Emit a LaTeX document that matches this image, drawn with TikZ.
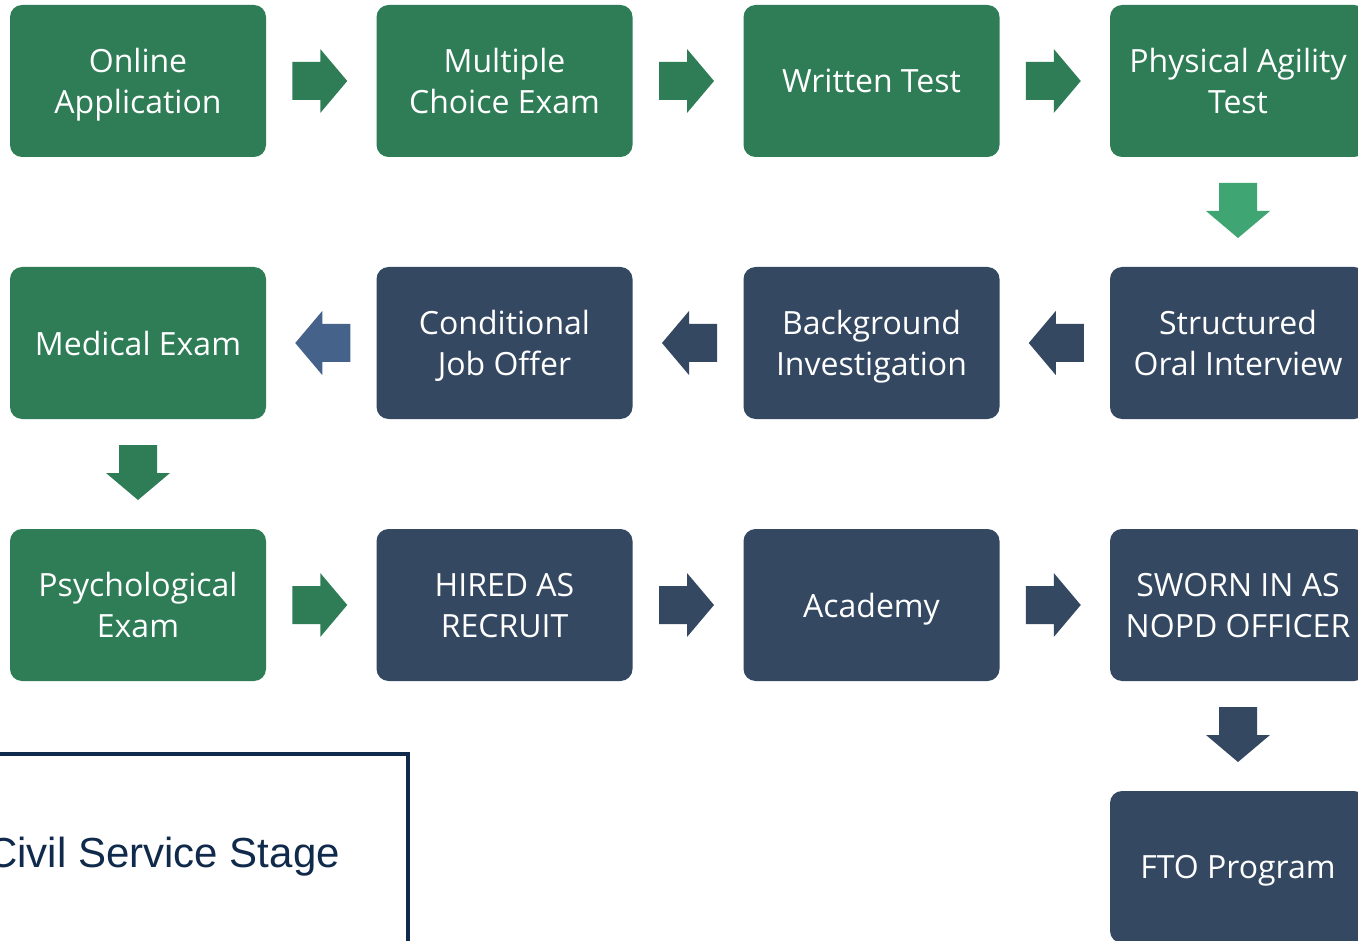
\documentclass[tikz,border=0pt]{standalone}
\usepackage{fontspec}
\usetikzlibrary{calc}
\setmainfont{Open Sans}
\newfontfamily\arialfont{Liberation Sans}
\definecolor{boxgreen}{HTML}{2F7D56}
\definecolor{boxnavy}{HTML}{344862}
\definecolor{arrlightgreen}{HTML}{3FA673}
\definecolor{arrlightblue}{HTML}{44628A}
\definecolor{civilnavy}{HTML}{102A4C}
\newcommand{\bxl}[1]{\vphantom{Ayg}#1}
\tikzset{
  boxtext/.style={inner sep=0pt, text=white, align=center, yshift=-4pt,
    font=\fontsize{32}{41}\selectfont},
  stepbox/.style={rounded corners=12pt, minimum width=256pt, minimum height=152pt,
    inner sep=0pt},
  greenbox/.style={stepbox, fill=boxgreen},
  navybox/.style={stepbox, fill=boxnavy},
  blockarrow/.pic={\fill (-29,-19) -- (-1,-19) -- (-1,-32) -- (26,0) -- (-1,32) -- (-1,19) -- (-29,19) -- cycle;}
}
\begin{document}
\begin{tikzpicture}[x=1pt,y=-1pt]
\useasboundingbox (0,0) rectangle (1358,941);
\clip (0,0) rectangle (1358,941);
\fill[white] (0,0) rectangle (1358,941);
% row 1
\node[greenbox, label={[boxtext]center:\bxl{Online}\\\bxl{Application}}] (online) at (138,81) {};
\node[greenbox, label={[boxtext]center:\bxl{Multiple}\\\bxl{Choice Exam}}] (mce) at (504.5,81) {};
\node[greenbox, label={[boxtext]center:\bxl{Written Test}}] (written) at (871.5,81) {};
\node[greenbox, label={[boxtext]center:\bxl{Physical Agility}\\\bxl{Test}}] (pat) at (1238,81) {};
% row 2
\node[greenbox, label={[boxtext]center:\bxl{Medical Exam}}] (medical) at (138,343) {};
\node[navybox, label={[boxtext]center:\bxl{Conditional}\\\bxl{Job Offer}}] (cjo) at (504.5,343) {};
\node[navybox, label={[boxtext]center:\bxl{Background}\\\bxl{Investigation}}] (bg) at (871.5,343) {};
\node[navybox, label={[boxtext]center:\bxl{Structured}\\\bxl{Oral Interview}}] (soi) at (1238,343) {};
% row 3
\node[greenbox, label={[boxtext]center:\bxl{Psychological}\\\bxl{Exam}}] (psych) at (138,605) {};
\node[navybox, label={[boxtext]center:\bxl{HIRED AS}\\\bxl{RECRUIT}}] (hired) at (504.5,605) {};
\node[navybox, label={[boxtext]center:\bxl{Academy}}] (academy) at (871.5,605) {};
\node[navybox, label={[boxtext]center:\bxl{SWORN IN AS}\\\bxl{NOPD OFFICER}}] (sworn) at (1238,605) {};
% row 4
\node[navybox, label={[boxtext]center:\bxl{FTO Program}}] (fto) at (1238,867) {};
% arrows
\path[fill=boxgreen] ($(online.east)!0.5!(mce.west)$) pic {blockarrow};
\path[fill=boxgreen] ($(mce.east)!0.5!(written.west)$) pic {blockarrow};
\path[fill=boxgreen] ($(written.east)!0.5!(pat.west)$) pic {blockarrow};
\path[fill=arrlightgreen] ($(pat.south)!0.5!(soi.north)$) pic[rotate=-90] {blockarrow};
\path[fill=boxnavy] ($(soi.west)!0.5!(bg.east)$) pic[rotate=180] {blockarrow};
\path[fill=boxnavy] ($(bg.west)!0.5!(cjo.east)$) pic[rotate=180] {blockarrow};
\path[fill=arrlightblue] ($(cjo.west)!0.5!(medical.east)$) pic[rotate=180] {blockarrow};
\path[fill=boxgreen] ($(medical.south)!0.5!(psych.north)$) pic[rotate=-90] {blockarrow};
\path[fill=boxgreen] ($(psych.east)!0.5!(hired.west)$) pic {blockarrow};
\path[fill=boxnavy] ($(hired.east)!0.5!(academy.west)$) pic {blockarrow};
\path[fill=boxnavy] ($(academy.east)!0.5!(sworn.west)$) pic {blockarrow};
\path[fill=boxnavy] ($(sworn.south)!0.5!(fto.north)$) pic[rotate=-90] {blockarrow};
% civil service stage legend
\draw[civilnavy, line width=4pt] (-30,754) -- (408,754) -- (408,980);
\node[anchor=base east, inner sep=0pt, text=civilnavy, font=\arialfont\fontsize{42}{48}\selectfont] (civil) at (340,867) {Civil Service Stage};
\end{tikzpicture}
\end{document}
